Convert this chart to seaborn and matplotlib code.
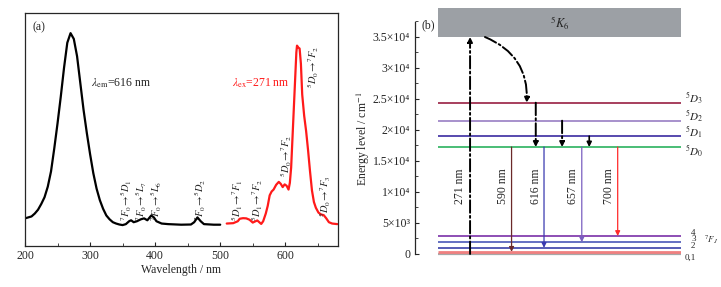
import numpy as np
import pandas as pd
import seaborn as sns
import matplotlib.pyplot as plt
from matplotlib.ticker import MultipleLocator, FixedLocator

sns.set_style("ticks")
plt.rcParams['font.family'] = ['Liberation Serif', 'DejaVu Serif']
plt.rcParams['mathtext.fontset'] = 'stix'

# excitation spectrum (lambda_em = 616 nm), normalised
exc_wl = [200, 205, 210, 215, 220, 225, 230, 235, 240, 245, 250, 255, 260, 265, 270,
          275, 280, 285, 290, 295, 300, 305, 310, 315, 320, 325, 330, 335, 340, 345,
          350, 355, 360, 363, 367, 372, 378, 383, 388, 394, 398, 402, 410, 420, 440,
          455, 460, 465, 470, 475, 490, 500]
exc_int = [0.035, 0.04, 0.045, 0.06, 0.08, 0.11, 0.145, 0.2, 0.28, 0.4, 0.53, 0.67, 0.82, 0.95, 1.0,
           0.97, 0.88, 0.74, 0.6, 0.48, 0.37, 0.27, 0.19, 0.13, 0.085, 0.05, 0.03, 0.015, 0.008, 0.003,
           0.0, 0.005, 0.02, 0.025, 0.015, 0.02, 0.03, 0.035, 0.025, 0.05, 0.04, 0.02, 0.008, 0.005, 0.002,
           0.003, 0.015, 0.04, 0.02, 0.005, 0.002, 0.002]

# emission spectrum (lambda_ex = 271 nm)
emi_wl = [510, 520, 527, 530, 535, 540, 545, 550, 553, 557, 560, 563, 566, 570, 573, 576, 579,
          582, 586, 590, 593, 596, 599, 602, 605, 607, 609, 611, 613, 615, 617, 618, 620, 622,
          624, 626, 629, 632, 635, 638, 641, 644, 647, 651, 655, 659, 663, 667, 672, 680]
emi_int = [0.008, 0.01, 0.02, 0.033, 0.036, 0.035, 0.028, 0.013, 0.018, 0.024, 0.015, 0.006, 0.02,
           0.06, 0.1, 0.155, 0.175, 0.185, 0.21, 0.225, 0.215, 0.198, 0.212, 0.205, 0.185, 0.22,
           0.3, 0.45, 0.6, 0.75, 0.9, 0.935, 0.925, 0.92, 0.84, 0.68, 0.57, 0.49, 0.39, 0.28, 0.18,
           0.12, 0.09, 0.065, 0.055, 0.052, 0.035, 0.015, 0.008, 0.005]

# transition labels on the spectra
exc_labels = [r'$^7F_0\!\rightarrow\!^5D_1$', r'$^7F_0\!\rightarrow\!^5L_7$',
              r'$^7F_0\!\rightarrow\!^5L_6$', r'$^7F_0\!\rightarrow\!^5D_2$']
exc_label_wl = [356.5, 379.5, 402.5, 469]
emi_labels = [r'$^5D_1\!\rightarrow\!^7F_1$', r'$^5D_1\!\rightarrow\!^7F_2$',
              r'$^5D_0\!\rightarrow\!^7F_2$', r'$^5D_0\!\rightarrow\!^7F_3$']
emi_label_wl = [526, 557, 602.5, 661.5]
emi_label_y = [0.02, 0.02, 0.25, 0.04]

# energy levels (cm-1)
d_names = [r'$^5D_3$', r'$^5D_2$', r'$^5D_1$', r'$^5D_0$']
d_energy = [24400, 21500, 19000, 17250]
d_label_y = [25000, 22200, 19500, 16450]
d_colors = ['#a03050', '#a088c8', '#4a3ca8', '#3cb86a']
f_names = ['0,1', '2', '3', '4']
f_energy = [350, 1000, 1900, 2900]
f_label_y = [-550, 1300, 2350, 3450]
f_colors = ['#f08080', '#3a40a8', '#4a58b8', '#7a30a8']
band_energy = 35000

# radiative transitions from 5D0
em_nm = ['590 nm', '616 nm', '657 nm', '700 nm']
em_end = [350, 1000, 1900, 2900]
em_colors = ['#6b2a2a', '#3a3ab0', '#7a5fc0', '#ff2a2a']

yticks = [0, 5000, 10000, 15000, 20000, 25000, 30000, 35000]
ytick_labels = ['0', '5×10³', '1×10⁴', '1.5×10⁴', '2×10⁴', '2.5×10⁴', '3×10⁴', '3.5×10⁴']

fig = plt.figure(figsize=(7.21, 2.87), dpi=100)

# ---------------- (a) spectra ----------------
ax1 = fig.add_axes([25 / 721, 41 / 287, 313 / 721, 233 / 287])
sns.lineplot(x=exc_wl, y=exc_int, color='black', lw=1.6, ax=ax1)
sns.lineplot(x=emi_wl, y=emi_int, color='#ff1a1a', lw=1.6, ax=ax1)
ax1.set_xlim(200, 681)
ax1.set_ylim(-0.109, 1.105)
ax1.set_yticks([])
ax1.xaxis.set_major_locator(MultipleLocator(100))
ax1.xaxis.set_minor_locator(MultipleLocator(50))
ax1.tick_params(axis='x', which='both', direction='in', labelsize=8.5, pad=3)
ax1.tick_params(axis='x', which='major', length=3)
ax1.tick_params(axis='x', which='minor', length=2)
for s in ax1.spines.values():
    s.set_linewidth(0.9)
ax1.set_xlabel('Wavelength / nm', fontsize=8.5, labelpad=1)

ax1.text(212, 1.03, '(a)', fontsize=8.5, va='center')
ax1.text(301, 0.74, r'$\lambda_{\rm em}$=616 nm', fontsize=8.5, va='center')
ax1.text(518, 0.74, r'$\lambda_{\rm ex}$=271 nm', fontsize=8.5, va='center', color='#ff1a1a')
for lab, w in zip(exc_labels, exc_label_wl):
    ax1.text(w, 0.02, lab, rotation=90, ha='center', va='bottom', fontsize=7.5)
for lab, w, y in zip(emi_labels, emi_label_wl, emi_label_y):
    ax1.text(w, y, lab, rotation=90, ha='center', va='bottom', fontsize=7.5)
ax1.text(643, 0.935, r'$^5D_0\!\rightarrow\!^7F_2$', rotation=90, ha='center', va='top', fontsize=7.5)

# ---------------- (b) energy levels ----------------
ax2 = fig.add_axes([415 / 721, 17 / 287, 266 / 721, 262 / 287])
ax2.set_xlim(0, 100)
ax2.set_ylim(-2581, 39677)
x0 = 8.6
ax2.axhspan(band_energy, 39677, xmin=x0 / 100, xmax=1.0, color='#9ca0a5', lw=0)
ax2.text(54.5, 37300, r'$^5K_6$', ha='center', va='center', fontsize=9)

ax2.hlines(0, x0, 100, colors='#a8a8a8', lw=1.6)
ax2.hlines(d_energy, x0, 100, colors=d_colors, lw=1.3)
ax2.hlines(f_energy, x0, 100, colors=f_colors, lw=[2.0, 1.2, 1.2, 1.2])

for n, e in zip(d_names, d_label_y):
    ax2.text(101.5, e, n, fontsize=8, va='center')
for n, e in zip(f_names, f_label_y):
    ax2.text(103.8 if n != '0,1' else 101.5, e, n, fontsize=6.5, va='center')
ax2.text(108.5, 2260, r'$^7F_J$', fontsize=6.5, va='center')

# excitation and non-radiative relaxation
head = dict(arrowstyle='-|>', mutation_scale=7, shrinkA=0, shrinkB=0)
ax2.annotate('', xy=(20.7, band_energy), xytext=(20.7, 0),
             arrowprops=dict(head, color='black', lw=1.4, ls='-.'))
ax2.annotate('', xy=(42, d_energy[0]), xytext=(26.3, band_energy),
             arrowprops=dict(head, color='black', lw=1.4, ls='-.',
                             connectionstyle='arc3,rad=-0.35'))
ax2.annotate('', xy=(45.4, d_energy[3]), xytext=(45.4, d_energy[0]),
             arrowprops=dict(head, color='black', lw=1.4, ls='-.'))
ax2.annotate('', xy=(55.3, d_energy[3]), xytext=(55.3, d_energy[1]),
             arrowprops=dict(head, color='black', lw=1.4, ls='-.'))
ax2.annotate('', xy=(65.5, d_energy[3]), xytext=(65.5, d_energy[2]),
             arrowprops=dict(head, color='black', lw=1.2))
ax2.text(16.9, 11000, '271 nm', rotation=90, ha='center', va='center', fontsize=8.5)

# emission from 5D0
for lab, end, c, xa, xt in zip(em_nm, em_end, em_colors,
                               [36.3, 48.5, 62.7, 76.2], [33.2, 45.4, 59.5, 73]):
    ax2.annotate('', xy=(xa, end), xytext=(xa, d_energy[3]),
                 arrowprops=dict(head, color=c, lw=0.9))
    ax2.text(xt, 11000, lab, rotation=90, ha='center', va='center', fontsize=8.5)

for side in ['top', 'right', 'bottom']:
    ax2.spines[side].set_visible(False)
ax2.spines['left'].set_bounds(0, 37400)
ax2.spines['left'].set_linewidth(0.9)
ax2.set_xticks([])
ax2.set_yticks(yticks)
ax2.set_yticklabels(ytick_labels)
ax2.yaxis.set_minor_locator(FixedLocator([2500, 7500, 12500, 17500, 22500, 27500, 32500, 37500]))
ax2.tick_params(axis='y', which='both', direction='in', labelsize=8.5)
ax2.tick_params(axis='y', which='major', length=3)
ax2.tick_params(axis='y', which='minor', length=2)
ax2.set_ylabel('Energy level / cm$^{-1}$', fontsize=8.5, labelpad=1)
ax2.text(2.5, 36900, '(b)', fontsize=8.5, va='center')

fig.savefig('out.png', dpi=100)
